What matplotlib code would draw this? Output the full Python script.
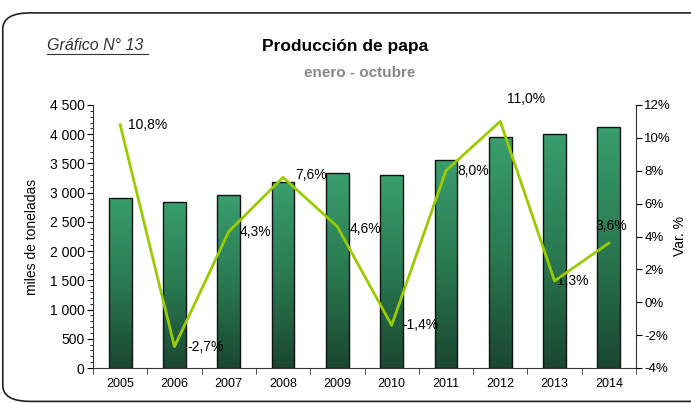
import numpy as np
import matplotlib.pyplot as plt
from matplotlib.patches import FancyBboxPatch
from matplotlib.colors import LinearSegmentedColormap
from matplotlib.ticker import FuncFormatter, MultipleLocator

years = ['2005', '2006', '2007', '2008', '2009', '2010', '2011', '2012', '2013', '2014']
produccion = [2910, 2835, 2960, 3185, 3335, 3300, 3560, 3945, 4005, 4130]
var_pct = [10.8, -2.7, 4.3, 7.6, 4.6, -1.4, 8.0, 11.0, 1.3, 3.6]
etiquetas = ['10,8%', '-2,7%', '4,3%', '7,6%', '4,6%', '-1,4%', '8,0%', '11,0%', '1,3%', '3,6%']
# label offsets in points (dx, dy)
offsets = [(6, 0), (9, 0), (8, 0), (9, 2), (9, -2), (8, 0), (8, 0), (5, 16), (2, 0), (-10, 12)]

plt.rcParams['font.family'] = ['Liberation Sans', 'DejaVu Sans']

fig = plt.figure(figsize=(6.91, 4.03), dpi=100)
frame = FancyBboxPatch((0.004, 0.004), 1.2, 0.964, boxstyle='round,pad=0,rounding_size=0.04',
                       transform=fig.transFigure, fill=False, edgecolor='#222222', lw=1.2)
fig.patches.append(frame)

ax = fig.add_axes([93 / 691, 35 / 403, 543 / 691, 263 / 403])
x = np.arange(len(years))
bars = ax.bar(x, produccion, width=0.42, color='none', edgecolor='#111111', lw=1, zorder=3)

cmap = LinearSegmentedColormap.from_list('verde', ['#1b4731', '#2a7a52', '#3a9e6e'])
grad = np.linspace(0, 1, 256).reshape(-1, 1)
for b in bars:
    x0, y0 = b.get_x(), b.get_y()
    im = ax.imshow(grad, cmap=cmap, origin='lower', aspect='auto', zorder=2,
                   extent=[x0, x0 + b.get_width(), y0, y0 + b.get_height()])
    im.set_clip_path(b)

ax.set_xlim(-0.5, len(years) - 0.5)
ax.set_ylim(0, 4500)
ax.set_xticks(x)
ax.set_xticklabels(years, fontsize=9)
ax.set_xticks(np.arange(-0.5, len(years), 1), minor=True)
ax.tick_params(axis='x', which='major', length=0, pad=7)
ax.tick_params(axis='x', which='minor', length=4, direction='out', color='#333333')
ax.yaxis.set_major_locator(MultipleLocator(500))
ax.yaxis.set_minor_locator(MultipleLocator(100))
ax.yaxis.set_major_formatter(FuncFormatter(lambda v, p: f'{int(v):,}'.replace(',', ' ')))
ax.tick_params(axis='y', which='major', length=4, pad=2, labelsize=10)
ax.tick_params(axis='y', which='minor', length=2.5)
ax.set_ylabel('miles de toneladas', fontsize=10, labelpad=8)
ax.spines['top'].set_visible(False)
ax.spines['right'].set_visible(False)
ax.spines['left'].set_color('#333333')
ax.spines['bottom'].set_color('#333333')

ax2 = ax.twinx()
ax2.plot(x, var_pct, color='#99cc00', lw=2, zorder=5)
ax2.set_ylim(-4, 12)
ax2.yaxis.set_major_locator(MultipleLocator(2))
ax2.yaxis.set_major_formatter(FuncFormatter(lambda v, p: f'{int(v)}%'))
ax2.tick_params(axis='y', length=4, pad=2, labelsize=9.5)
ax2.spines['top'].set_visible(False)
ax2.spines['left'].set_visible(False)
ax2.spines['bottom'].set_visible(False)
ax2.spines['right'].set_color('#333333')

for xi, yi, t, (dx, dy) in zip(x, var_pct, etiquetas, offsets):
    ax2.annotate(t, (xi, yi), xytext=(dx, dy), textcoords='offset points',
                 fontsize=10, ha='left', va='center')

fig.text(680 / 691, 1 - 236 / 403, 'Var. %', fontsize=10, rotation=90, ha='center', va='center')

fig.text(47 / 691, 1 - 45 / 403, 'Gráfico N° 13', fontsize=11.5, style='italic', color='#333333',
         va='center', ha='left')
fig.add_artist(plt.Line2D([47 / 691, 148 / 691], [1 - 54 / 403, 1 - 54 / 403], color='#333333', lw=0.8))
fig.text(345 / 691, 1 - 46 / 403, 'Producción de papa', fontsize=12.5, weight='bold', ha='center', va='center')
fig.text(360 / 691, 1 - 73 / 403, 'enero - octubre', fontsize=11, weight='bold', color='#888888',
         ha='center', va='center')

fig.savefig('out.png', dpi=100)
